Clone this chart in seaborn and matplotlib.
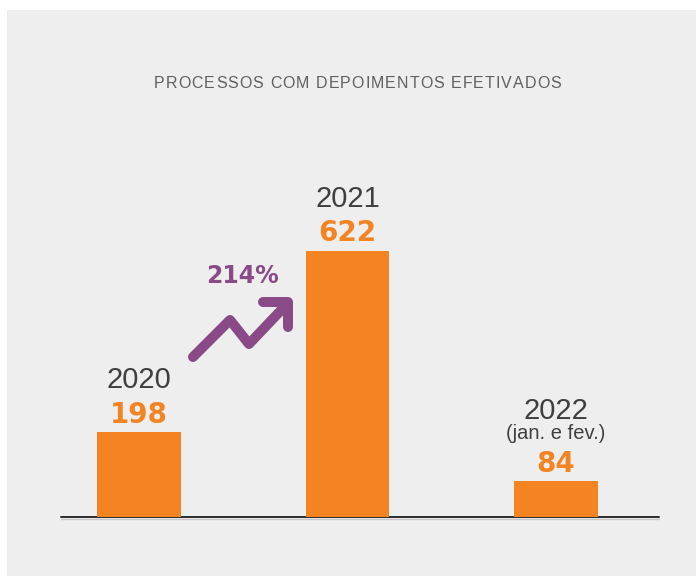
import numpy as np
import pandas as pd
import matplotlib
matplotlib.use("Agg")
import matplotlib.pyplot as plt
import seaborn as sns
from matplotlib.font_manager import FontProperties
from matplotlib.patches import Rectangle
from matplotlib.lines import Line2D
from matplotlib.transforms import offset_copy

# ---- data ----
years = ["2020", "2021", "2022"]
values = [198, 622, 84]
sublabels = ["", "", "(jan. e fev.)"]
title = "PROCESSOS COM DEPOIMENTOS EFETIVADOS"
growth_label = "214%"

ORANGE = "#F48421"
PURPLE = "#8A4A88"
DARK = "#3F3F3F"
TITLE_C = "#606060"
BG = "#EEEEEE"

sns.set_theme(style="white")
plt.rcParams['font.family'] = ['Liberation Sans', 'DejaVu Sans']

W, H, DPI = 696, 576, 100
fig = plt.figure(figsize=(W / DPI, H / DPI), dpi=DPI, facecolor="white")
fig.patches.append(Rectangle((7 / W, 0), 1 - 7 / W, 1 - 10 / H, transform=fig.transFigure,
                             facecolor=BG, edgecolor="none", zorder=-5))

ax = fig.add_axes([61 / W, (H - 517) / H, (659 - 61) / W, (517 - 100) / H])
ax.set_zorder(2)
ax.set_facecolor("none")
df = pd.DataFrame({"year": years, "value": values})
sns.barplot(data=df, x="year", y="value", color=ORANGE, saturation=1, width=0.4, ax=ax,
            zorder=3, edgecolor="none", linewidth=0)
ax.set_xlim(-0.374, 2.494)
ax.set_ylim(0, 975)
ax.axis("off")
ax.axhline(0, color="#2a2a2a", lw=1.4, zorder=2, clip_on=False)
ax.plot([0, 1], [0, 0], color="#c8c8c8", lw=1.0, zorder=1, clip_on=False,
        transform=offset_copy(ax.transAxes, fig=fig, x=0, y=-1.6, units="dots"))

num_font = FontProperties(family=['DejaVu Sans'], weight="bold", size=20)
px = 72 / DPI  # points per pixel
for i, p in enumerate(ax.patches[:len(values)]):
    cx = p.get_x() + p.get_width() / 2
    top = p.get_height()
    ax.annotate(f"{values[i]}", xy=(cx, top), xytext=(0, 9.5 * px), textcoords="offset points",
                ha="center", va="baseline", fontproperties=num_font, color=ORANGE)
    if sublabels[i]:
        ax.annotate(sublabels[i], xy=(cx, top), xytext=(0, 42 * px), textcoords="offset points",
                    ha="center", va="baseline", fontsize=14.5, color=DARK)
        yoff = 62
    else:
        yoff = 44
    ax.annotate(years[i], xy=(cx, top), xytext=(0, yoff * px), textcoords="offset points",
                ha="center", va="baseline", fontsize=21, color=DARK)

# growth arrow (decoration)
def fxy(x, y):
    return x / W, 1 - y / H

zig = [fxy(193, 357), fxy(230, 320), fxy(249, 344), fxy(287, 304)]
fig.add_artist(Line2D([a for a, b in zig], [b for a, b in zig], transform=fig.transFigure,
                      color=PURPLE, lw=7.2, solid_capstyle="round", solid_joinstyle="round"))
head = [fxy(263, 302), fxy(288, 302), fxy(288, 327)]
fig.add_artist(Line2D([a for a, b in head], [b for a, b in head], transform=fig.transFigure,
                      color=PURPLE, lw=7.2, solid_capstyle="round", solid_joinstyle="round"))
fig.text(242.5 / W, 1 - 283 / H, growth_label, ha="center", va="baseline",
         fontproperties=FontProperties(family=['DejaVu Sans'], weight="bold", size=17),
         color=PURPLE)

# letter-spaced title
fp = FontProperties(family=['Liberation Sans'], size=11.5)
renderer = fig.canvas.get_renderer()
def tw(s):
    return renderer.get_text_width_height_descent(s, fp, ismath=False)[0]
base = tw("||")
widths = [tw("|" + c + "|") - base for c in title]
target = 407.0
spacing = (target - sum(widths)) / (len(title) - 1)
x = 357.5 - target / 2
for c, w in zip(title, widths):
    fig.text(x / W, 1 - 88 / H, c, fontproperties=fp, color=TITLE_C, ha="left", va="baseline")
    x += w + spacing

fig.savefig("out.png", dpi=DPI, facecolor="white")
